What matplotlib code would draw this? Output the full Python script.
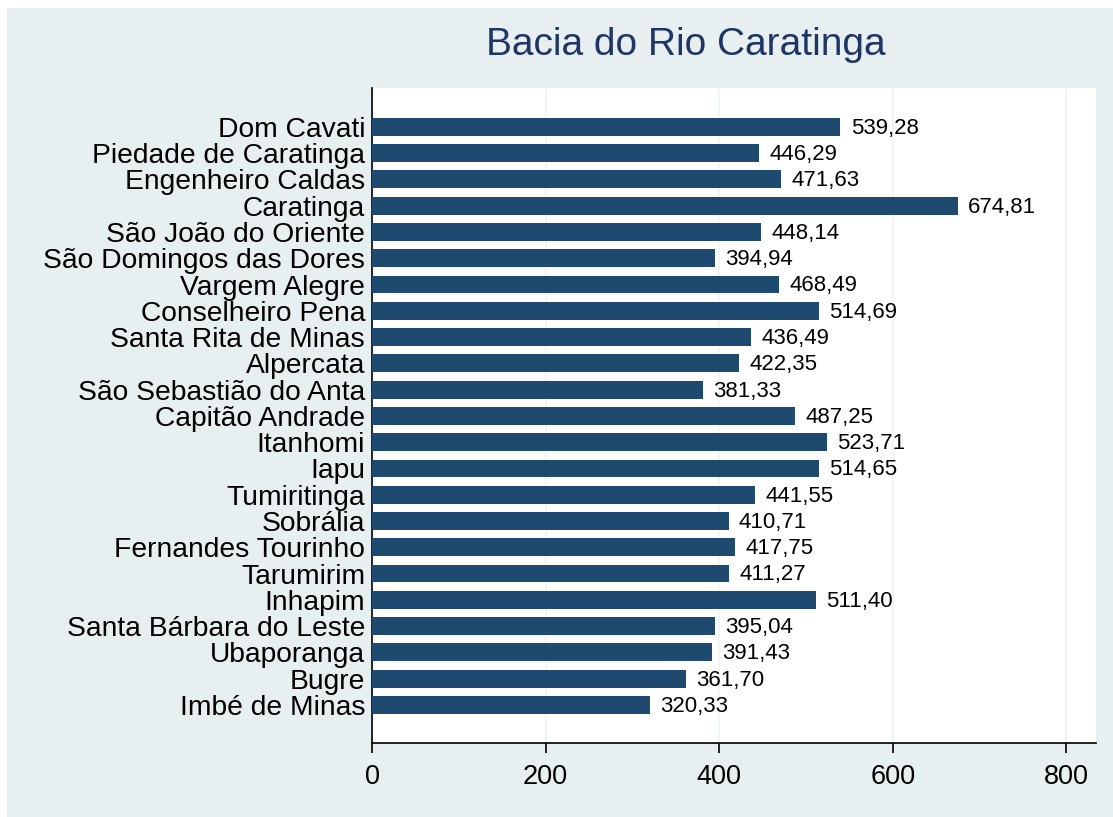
import matplotlib.pyplot as plt
from matplotlib.patches import Rectangle

# Municipios da bacia, de cima para baixo
municipios = ['Dom Cavati', 'Piedade de Caratinga', 'Engenheiro Caldas', 'Caratinga',
              'São João do Oriente', 'São Domingos das Dores', 'Vargem Alegre',
              'Conselheiro Pena', 'Santa Rita de Minas', 'Alpercata',
              'São Sebastião do Anta', 'Capitão Andrade', 'Itanhomi', 'Iapu',
              'Tumiritinga', 'Sobrália', 'Fernandes Tourinho', 'Tarumirim', 'Inhapim',
              'Santa Bárbara do Leste', 'Ubaporanga', 'Bugre', 'Imbé de Minas']
valores = [539.28, 446.29, 471.63, 674.81, 448.14, 394.94, 468.49, 514.69, 436.49,
           422.35, 381.33, 487.25, 523.71, 514.65, 441.55, 410.71, 417.75, 411.27,
           511.40, 395.04, 391.43, 361.70, 320.33]
xticks = [0, 200, 400, 600, 800]

bar_color = '#1E4A6F'
bg_color = '#E8EFF1'
plt.rcParams['font.family'] = ['Liberation Sans', 'DejaVu Sans']

fig = plt.figure(figsize=(11.13, 8.17), dpi=100, facecolor='white')
# Stata-like graph region (white strip at top/left)
fig.patches.append(Rectangle((7 / 1113, 0), 1 - 7 / 1113, 1 - 8 / 817,
                             transform=fig.transFigure, facecolor=bg_color,
                             edgecolor='none', zorder=-10))

ax = fig.add_axes([372 / 1113, 1 - 743 / 817, (1096 - 372) / 1113, (743 - 88) / 817])
ax.set_facecolor('white')

pos = list(range(len(municipios)))
ax.barh(pos, valores, height=0.68, color=bar_color, zorder=3)
for p, v in zip(pos, valores):
    ax.annotate(f'{v:.2f}'.replace('.', ','), (v, p), xytext=(7.5, -1),
                textcoords='offset points', va='center', ha='left', fontsize=16)

ax.set_ylim(len(municipios) - 1 + 1.45, -1.48)
ax.set_yticks(pos)
ax.set_yticklabels(municipios, fontsize=20.3)
ax.tick_params(axis='y', length=0, pad=5)

ax.set_xlim(0, 834)
ax.set_xticks(xticks)
ax.set_xticklabels([str(t) for t in xticks], fontsize=19.5)
ax.tick_params(axis='x', length=7, width=1.2, pad=8, color='black')
ax.grid(axis='x', color='#EDF3F5', linewidth=1.2, zorder=0)

for s in ['top', 'right']:
    ax.spines[s].set_visible(False)
for s in ['left', 'bottom']:
    ax.spines[s].set_linewidth(1.2)

fig.text(686 / 1113, 1 - 45 / 817, 'Bacia do Rio Caratinga', ha='center', va='center',
         fontsize=28, color='#1F3565')

fig.savefig('out.png', dpi=100, facecolor=fig.get_facecolor())
